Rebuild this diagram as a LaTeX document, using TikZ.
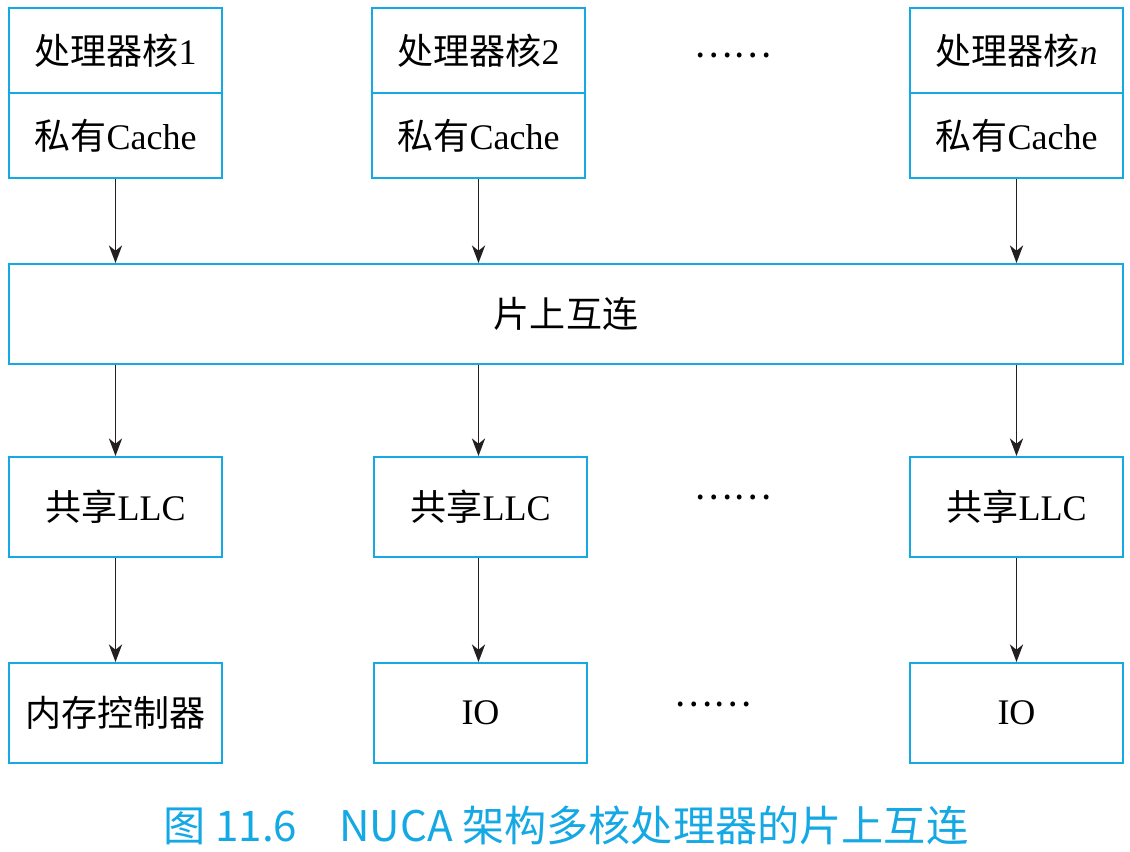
\documentclass[tikz,border=0pt]{standalone}
\usepackage{fontspec}
\setmainfont{Liberation Serif}
\newfontfamily\cjk{Noto Sans CJK SC}
\usepackage{xcolor}
\usetikzlibrary{arrows.meta}

\definecolor{boxblue}{RGB}{20,168,228}
\definecolor{arrowgray}{RGB}{35,31,32}

\tikzset{
  unit/.style={draw=boxblue, line width=1.1pt, minimum width=4.26cm, inner sep=0pt,
    font=\fontsize{20.5}{24}\selectfont},
  half/.style={unit, minimum height=1.7cm},
  block/.style={unit, minimum height=2cm},
  link/.style={draw=arrowgray, line width=1.1pt, -{Stealth[length=10pt,width=7.5pt,inset=3pt]}},
  dots/.style={font=\fontsize{20.5}{24}\selectfont\cjk}
}

\begin{document}
\begin{tikzpicture}[x=0.02cm, y=-0.02cm]
\useasboundingbox (0,0) rectangle (1130,852);

% cores with private caches
\node[half] (core1) at (115.5, 50.5) {{\cjk 处理器核}1};
\node[half] (cache1) at (115.5, 135.5) {{\cjk 私有}Cache};
\node[half] (core2) at (478.5, 50.5) {{\cjk 处理器核}2};
\node[half] (cache2) at (478.5, 135.5) {{\cjk 私有}Cache};
\node[half] (coren) at (1016.5, 50.5) {{\cjk 处理器核}\textit{n}};
\node[half] (cachen) at (1016.5, 135.5) {{\cjk 私有}Cache};
\node[dots] (dtop) at (733, 55) {……};

% on-chip interconnect
\node[block, minimum width=22.28cm] (noc) at (566, 314) {\cjk 片上互连};

% shared LLC slices
\node[block] (llc1) at (115.5, 507) {{\cjk 共享}LLC};
\node[block] (llc2) at (480.5, 507) {{\cjk 共享}LLC};
\node[block] (llcn) at (1016.5, 507) {{\cjk 共享}LLC};
\node[dots] (dmid) at (733, 497) {……};

% memory controller and IO
\node[block] (mem) at (115.5, 713) {\cjk 内存控制器};
\node[block] (io2) at (480.5, 713) {IO};
\node[block] (ion) at (1016.5, 713) {IO};
\node[dots] (dbot) at (713, 704) {……};

\draw[link] (cache1.south) -- (cache1.south |- noc.north);
\draw[link] (cache2.south) -- (cache2.south |- noc.north);
\draw[link] (cachen.south) -- (cachen.south |- noc.north);

\draw[link] (cache1.south |- noc.south) -- (llc1.north);
\draw[link] (cache2.south |- noc.south) -- (cache2.south |- llc2.north);
\draw[link] (cachen.south |- noc.south) -- (llcn.north);

\draw[link] (llc1.south) -- (mem.north);
\draw[link] (cache2.south |- llc2.south) -- (cache2.south |- io2.north);
\draw[link] (llcn.south) -- (ion.north);

\node[text=boxblue, font=\fontsize{24}{27}\selectfont\cjk] (caption) at (566, 825)
  {图 11.6\quad NUCA 架构多核处理器的片上互连};
\end{tikzpicture}
\end{document}
